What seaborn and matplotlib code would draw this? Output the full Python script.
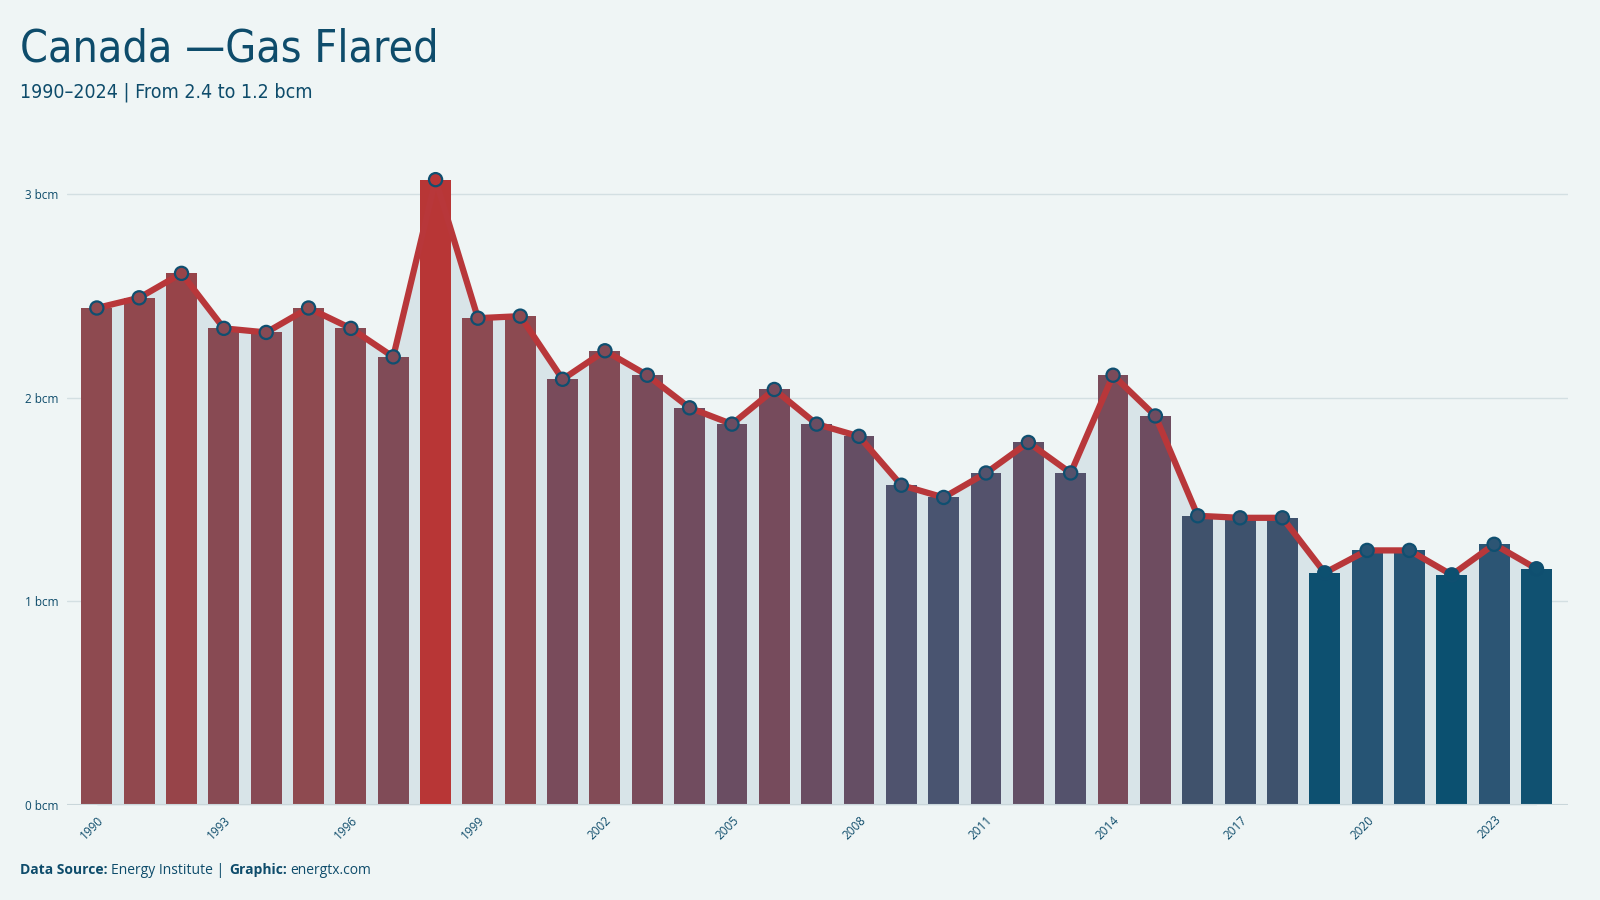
import matplotlib
matplotlib.use("Agg")
import matplotlib.pyplot as plt
import seaborn as sns
import numpy as np
import pandas as pd
from matplotlib.colors import LinearSegmentedColormap, to_hex
from matplotlib import font_manager

# ---- data ----
years = list(range(1990, 2025))
values = [2.44, 2.49, 2.61, 2.34, 2.32, 2.44, 2.34, 2.20, 3.07, 2.39,
          2.40, 2.09, 2.23, 2.11, 1.95, 1.87, 2.04, 1.87, 1.81, 1.57,
          1.51, 1.63, 1.78, 1.63, 2.11, 1.91, 1.42, 1.41, 1.41, 1.14,
          1.25, 1.25, 1.13, 1.28, 1.16]
tick_years = list(range(1990, 2025, 3))
title = "Canada \u2014Gas Flared"
subtitle = "1990\u20132024 | From 2.4 to 1.2 bcm"

sns.set_theme(style="white")
plt.rcParams['font.family'] = ['Open Sans', 'DejaVu Sans']

# regular condensed face for the headline, if available
cond = None
for f in font_manager.fontManager.ttflist:
    base = f.fname.split("/")[-1]
    if base == "DejaVuSansCondensed.ttf":
        cond = f.fname
        break
if cond is None:
    for f in font_manager.fontManager.ttflist:
        if ("ondensed" in f.fname and f.weight in (400, "normal")
                and f.style == "normal"):
            cond = f.fname
            break

BG = "#eff5f5"
TXT = "#0e4c6b"
RED = "#b8373a"

df = pd.DataFrame({"year": [str(y) for y in years], "value": values})

vmin, vmax = min(values), max(values)
stops = [(0.0, "#0b5070"), (0.07, "#2b5575"), (0.15, "#40526c"), (0.2, "#4a5470"),
         (0.4, "#6e4c60"), (0.68, "#8f4a50"), (0.76, "#964449"), (1.0, "#b83636")]
cmap = LinearSegmentedColormap.from_list("fl", stops)
colors = [to_hex(cmap((v - vmin) / (vmax - vmin))) for v in values]

fig = plt.figure(figsize=(16, 9), dpi=100, facecolor=BG)
ax = fig.add_axes([0.042, 0.1055, 0.938, 0.713])
ax.set_facecolor(BG)

x = np.arange(len(years))
ax.fill_between(x, 0, values, color="#d8e4e8", zorder=1, lw=0)

sns.barplot(data=df, x="year", y="value", hue="year", palette=colors,
            legend=False, width=0.73, ax=ax, zorder=2, saturation=1,
            linewidth=0, edgecolor="none")

ax.plot(x, values, color=RED, lw=4.5, zorder=3, solid_joinstyle="round")
ax.scatter(x, values, s=90, c=colors, edgecolors="#0f4f70", linewidths=1.6, zorder=4)

ax.set_ylim(0, 3.15)
ax.set_xlim(-0.70, len(years) - 1 + 0.745)
ax.set_yticks([0, 1, 2, 3])
ax.set_yticklabels([f"{t} bcm" for t in [0, 1, 2, 3]], fontsize=8.5, color=TXT)
for t in [1, 2, 3]:
    ax.axhline(t, color="#d3dfe2", lw=1, zorder=0)
ax.axhline(0, color="#c9d6da", lw=1.5, zorder=5)

ax.set_xticks([years.index(y) for y in tick_years])
ax.set_xticklabels([str(y) for y in tick_years], rotation=45, ha="right",
                   rotation_mode="anchor", fontsize=8.5, color=TXT)
ax.tick_params(axis="both", length=0, pad=6)
ax.set_xlabel("")
ax.set_ylabel("")
for s in ax.spines.values():
    s.set_visible(False)

if cond:
    tprops = font_manager.FontProperties(fname=cond, size=32)
    sprops = font_manager.FontProperties(fname=cond, size=14)
else:
    tprops = font_manager.FontProperties(family="DejaVu Sans", stretch="condensed",
                                         weight="normal", size=32)
    sprops = font_manager.FontProperties(family="DejaVu Sans", stretch="condensed",
                                         weight="normal", size=14)

fig.text(0.0125, 0.945, title, color=TXT, va="center", ha="left", fontproperties=tprops)
fig.text(0.0125, 0.897, subtitle, color=TXT, va="center", ha="left", fontproperties=sprops)

fig.text(0.0125, 0.033, "Data Source:", fontsize=10, color=TXT, fontweight="bold",
         va="center", ha="left")
fig.text(0.0695, 0.033, "Energy Institute |", fontsize=10, color=TXT, va="center", ha="left")
fig.text(0.1435, 0.033, "Graphic:", fontsize=10, color=TXT, fontweight="bold",
         va="center", ha="left")
fig.text(0.1815, 0.033, "energtx.com", fontsize=10, color=TXT, va="center", ha="left")

fig.savefig("out.png", dpi=100, facecolor=BG)
